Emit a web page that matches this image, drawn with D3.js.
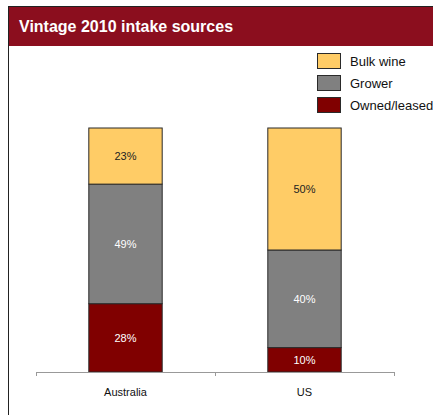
<!DOCTYPE html>
<html>
<head>
<meta charset="utf-8">
<script src="https://cdn.jsdelivr.net/npm/d3@7"></script>
<style>
  html, body { margin: 0; padding: 0; background: #fff; }
  svg { display: block; font-family: Arial, "Liberation Sans", sans-serif; }
</style>
</head>
<body>
<svg id="chart" width="433" height="415"></svg>
<script>
// Chart data
const title = "Vintage 2010 intake sources";
const categories = ["Australia", "US"];
const seriesNames = ["Owned/leased", "Grower", "Bulk wine"];
const ownedLeased = [28, 10];
const grower = [49, 40];
const bulkWine = [23, 50];
const seriesColors = ["#800000", "#808080", "#FFCC66"];
const labelColors = ["#ffffff", "#ffffff", "#222222"];

const svg = d3.select("#chart");

// Frame and header band
svg.append("rect").attr("x", 8).attr("y", 6).attr("width", 440).attr("height", 40)
  .attr("fill", "#8B0E1E");
svg.append("line").attr("x1", 8.5).attr("x2", 8.5).attr("y1", 6).attr("y2", 415)
  .attr("stroke", "#222").attr("stroke-width", 1);
svg.append("line").attr("x1", 8).attr("x2", 433).attr("y1", 6.5).attr("y2", 6.5)
  .attr("stroke", "#222").attr("stroke-width", 1);
svg.append("text").attr("x", 19).attr("y", 32).attr("fill", "#fff")
  .attr("font-size", 16).attr("font-weight", "bold").text(title);

// Stack the series
const table = categories.map((c, i) => ({
  category: c,
  "Owned/leased": ownedLeased[i],
  "Grower": grower[i],
  "Bulk wine": bulkWine[i]
}));
const stacked = d3.stack().keys(seriesNames)(table);

// Scales: each category owns one band; bars fill part of it
const x = d3.scaleBand().domain(categories).range([36, 394]).padding(0);
const barW = x.bandwidth() * 0.41;
const barX = c => x(c) + (x.bandwidth() - barW) / 2;
const y = d3.scaleLinear().domain([0, 100]).range([372, 128]);

// Bars
const layers = svg.append("g").selectAll("g").data(stacked).join("g")
  .attr("fill", (d, i) => seriesColors[i]);
layers.selectAll("rect").data(d => d).join("rect")
  .attr("x", d => barX(d.data.category))
  .attr("width", barW)
  .attr("y", d => y(d[1]))
  .attr("height", d => y(d[0]) - y(d[1]))
  .attr("stroke", "#2a2a2a").attr("stroke-width", 1);

// Value labels
layers.each(function(layer, li) {
  d3.select(this).selectAll("text").data(layer).join("text")
    .attr("x", d => x(d.data.category) + x.bandwidth() / 2)
    .attr("y", d => (y(d[0]) + y(d[1])) / 2 + 4)
    .attr("text-anchor", "middle")
    .attr("font-size", 11)
    .attr("fill", labelColors[li])
    .text(d => (d[1] - d[0]) + "%");
});

// Category axis
const axisG = svg.append("g").attr("transform", "translate(0,372)");
axisG.append("line").attr("x1", 36).attr("x2", 394).attr("y1", 0.5).attr("y2", 0.5)
  .attr("stroke", "#999");
const tickXs = categories.map(c => x(c)).concat([x.range()[1]]);
axisG.selectAll("line.tick").data(tickXs).join("line").attr("class", "tick")
  .attr("x1", d => Math.round(d) + 0.5).attr("x2", d => Math.round(d) + 0.5).attr("y1", 0).attr("y2", 4)
  .attr("stroke", "#999");
axisG.selectAll("text").data(categories).join("text")
  .attr("x", d => x(d) + x.bandwidth() / 2)
  .attr("y", 24)
  .attr("text-anchor", "middle")
  .attr("font-size", 11)
  .attr("fill", "#111")
  .text(d => d);

// Legend (top entry is Bulk wine)
const legendItems = seriesNames.map((n, i) => ({ name: n, color: seriesColors[i] })).reverse();
const legend = svg.append("g").attr("transform", "translate(317,53)");
const li = legend.selectAll("g").data(legendItems).join("g")
  .attr("transform", (d, i) => `translate(0,${i * 22})`);
li.append("rect").attr("x", 0.5).attr("y", 0.5).attr("width", 23).attr("height", 15)
  .attr("fill", d => d.color).attr("stroke", "#2a2a2a");
li.append("text").attr("x", 33).attr("y", 13).attr("font-size", 13).attr("fill", "#111")
  .text(d => d.name);
</script>
</body>
</html>
